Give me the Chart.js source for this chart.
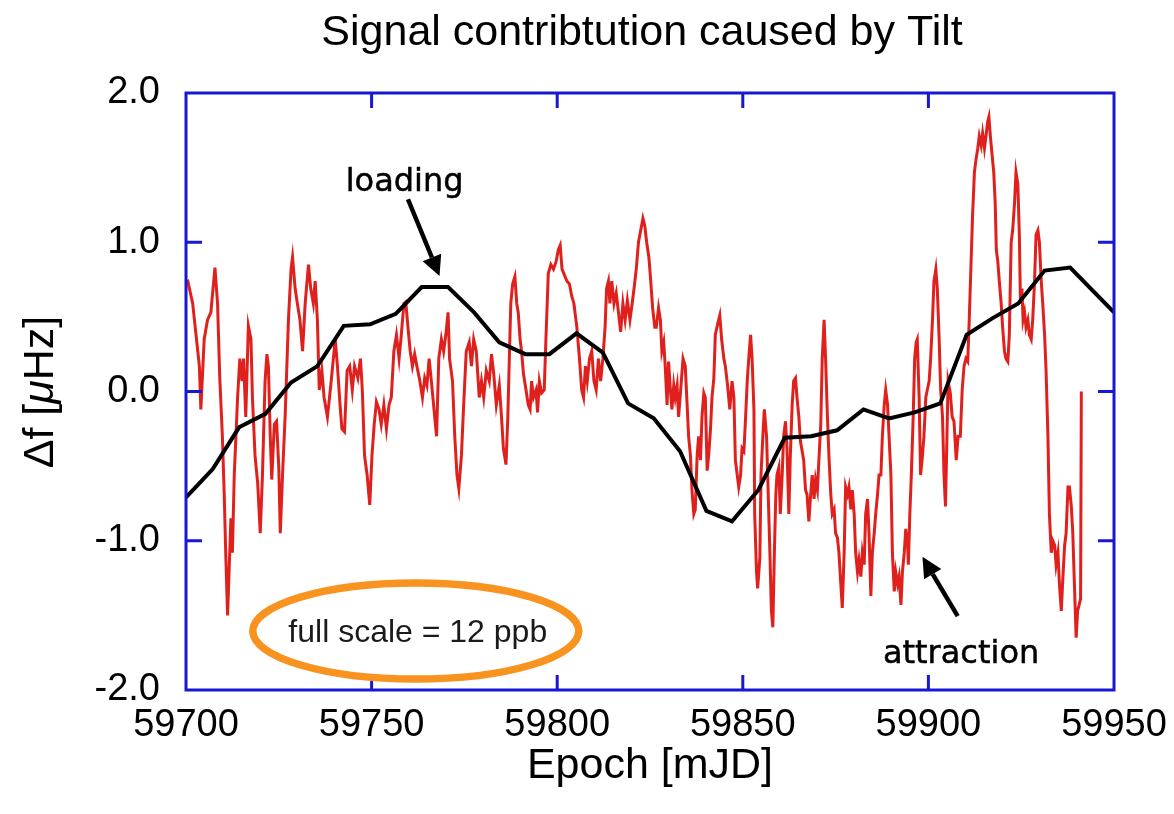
<!DOCTYPE html>
<html>
<head>
<meta charset="utf-8">
<title>Signal contribtution caused by Tilt</title>
<script src="https://cdn.jsdelivr.net/npm/chart.js@4.4.1/dist/chart.umd.min.js"></script>
<style>
  html, body { margin: 0; padding: 0; background: #fff; }
</style>
</head>
<body>
<canvas id="tiltChart" width="1174" height="814"></canvas>
<script>
// tilt signal (red), epochs in mJD
const redEpoch = [
  59700.4, 59701.8, 59702.7, 59703.6, 59704.0, 59704.9, 59705.8, 59706.7, 59707.8, 59708.5,
  59709.1, 59709.8, 59710.3, 59710.7, 59711.2, 59711.6, 59712.1, 59712.5, 59713.0, 59713.9,
  59714.5, 59715.1, 59715.5, 59716.1, 59716.8, 59717.5, 59717.9, 59718.6, 59719.3, 59720.0,
  59720.6, 59721.3, 59721.8, 59722.2, 59722.7, 59723.1, 59723.8, 59724.4, 59725.0, 59725.4,
  59726.0, 59726.7, 59727.6, 59728.3, 59728.7, 59729.4, 59730.0, 59730.7, 59731.4, 59732.1,
  59733.0, 59733.6, 59734.3, 59734.8, 59735.4, 59735.9, 59736.6, 59737.2, 59738.1, 59739.0,
  59739.7, 59740.2, 59740.8, 59741.5, 59742.0,
  59742.7, 59743.4, 59744.1, 59744.8, 59745.4, 59746.3, 59747.0, 59747.5, 59748.1, 59748.8,
  59749.5, 59750.1, 59750.7, 59751.3, 59752.0, 59752.6, 59753.3, 59754.0, 59754.7, 59755.3,
  59756.0, 59756.7, 59757.4, 59758.0, 59758.7, 59759.2, 59759.8, 59760.4, 59761.0, 59761.6,
  59762.2, 59763.0, 59763.7, 59764.3, 59764.9, 59765.5, 59766.1, 59766.7, 59767.5, 59768.1,
  59768.8, 59769.4, 59770.0, 59770.6, 59771.0, 59771.8, 59772.4, 59773.0, 59773.5, 59774.2,
  59774.8, 59775.5, 59776.3, 59776.9, 59777.5, 59778.2, 59779.0, 59779.6, 59780.2, 59780.9,
  59781.7, 59782.3, 59782.9, 59783.6,
  59784.4, 59785.0, 59785.5, 59786.2, 59786.7, 59787.1, 59787.5, 59788.0, 59788.6, 59789.1,
  59789.5, 59790.0, 59790.4, 59790.9, 59791.6, 59792.2, 59792.7, 59793.1, 59793.6, 59794.3,
  59794.7, 59795.2, 59795.8, 59796.5, 59797.0, 59797.6, 59798.3, 59799.0, 59799.7, 59800.3,
  59800.8, 59801.3, 59801.8, 59802.6, 59803.3, 59803.9, 59804.5, 59805.3, 59806.0, 59806.6,
  59807.1, 59807.6, 59808.1, 59808.7, 59809.3, 59809.9, 59810.5, 59811.1, 59811.7, 59812.3,
  59812.9, 59813.3, 59813.8, 59814.2, 59814.7, 59815.3, 59815.9, 59816.5, 59817.1, 59817.7,
  59818.3, 59818.9, 59819.6, 59820.2, 59820.7, 59821.3, 59821.9, 59822.5, 59823.1, 59823.6,
  59824.1, 59824.7, 59825.2, 59825.7, 59826.3,
  59826.7, 59827.3, 59827.8, 59828.2, 59828.7, 59829.1, 59829.6, 59830.0, 59830.5, 59830.9,
  59831.4, 59831.8, 59832.3, 59832.7, 59833.2, 59833.9, 59834.5, 59835.0, 59835.4, 59835.9,
  59836.3, 59836.8, 59837.2, 59837.7, 59838.1, 59838.6, 59839.0, 59839.5, 59839.9, 59840.4,
  59840.8, 59841.3, 59841.7, 59842.2, 59842.6, 59843.3, 59843.8, 59844.3, 59844.9, 59845.3,
  59845.9, 59846.5, 59847.1, 59847.6, 59848.0, 59848.5, 59848.9, 59849.4, 59849.8, 59850.3,
  59850.7, 59851.2, 59851.6, 59852.1, 59852.5, 59853.0, 59853.2, 59853.7, 59854.0, 59854.6,
  59854.9, 59855.5, 59855.8, 59856.4, 59856.7, 59857.3, 59857.7, 59858.1, 59858.5, 59858.9,
  59859.2, 59859.7, 59860.1, 59860.6, 59861.0, 59861.5, 59861.9, 59862.4, 59862.8, 59863.3,
  59863.7, 59864.2, 59864.6, 59865.1, 59865.5, 59866.0, 59866.4, 59866.9, 59867.3, 59867.8,
  59868.2,
  59868.7, 59869.2, 59869.6, 59870.1, 59870.5, 59871.0, 59871.4, 59871.9, 59872.3, 59872.8,
  59873.2, 59873.7, 59874.1, 59874.6, 59875.0, 59875.5, 59875.9, 59876.4, 59876.8, 59877.3,
  59877.7, 59878.2, 59878.6, 59879.1, 59879.5, 59880.0, 59880.4, 59880.9, 59881.3, 59881.8,
  59882.2, 59882.7, 59883.1, 59883.6, 59884.0, 59884.5, 59884.9, 59885.4, 59885.8, 59886.3,
  59886.7, 59887.2, 59887.6, 59888.1, 59888.5, 59889.0, 59889.4, 59889.9, 59890.3, 59890.8,
  59891.2, 59891.7, 59892.1, 59892.6, 59893.0, 59893.5, 59893.9, 59894.4, 59894.6, 59895.0,
  59895.4, 59895.9, 59896.3, 59896.7, 59897.0, 59897.5, 59897.9, 59898.4, 59898.8, 59899.3,
  59899.7, 59900.2, 59900.6, 59901.1, 59901.5, 59902.0, 59902.4, 59902.9, 59903.3, 59903.8,
  59904.2, 59904.6, 59905.0, 59905.3, 59905.9, 59906.4, 59906.9, 59907.5, 59908.0, 59908.6,
  59909.1, 59909.6, 59910.1,
  59910.6, 59911.0, 59911.5, 59911.9, 59912.4, 59912.8, 59913.3, 59913.7, 59914.2, 59914.6,
  59915.1, 59915.5, 59916.0, 59916.3, 59916.7, 59917.1, 59917.6, 59918.0, 59918.3, 59918.7,
  59919.1, 59919.6, 59920.0, 59920.5, 59920.9, 59921.4, 59921.8, 59922.3, 59922.7, 59923.2,
  59923.6, 59924.1, 59924.5, 59924.8, 59925.2, 59925.5, 59925.9, 59926.3, 59926.8, 59927.2,
  59927.7, 59928.1, 59928.6, 59929.0, 59929.5, 59929.9, 59930.4, 59930.8, 59931.3, 59931.7,
  59932.2, 59932.6, 59933.1, 59933.5, 59934.0, 59934.4, 59934.9, 59935.3, 59935.8, 59936.2,
  59936.7, 59937.1, 59937.6, 59938.0, 59938.5, 59938.9, 59939.4, 59939.8, 59940.2, 59940.7,
  59941.0, 59941.2
];
const redDf = [
  0.75, 0.59, 0.38, 0.17, -0.12, 0.35, 0.48, 0.53, 0.83, 0.59,
  0.09, -0.30, -0.69, -1.08, -1.50, -1.21, -0.85, -1.08, -0.56, -0.04,
  0.22, 0.07, 0.22, -0.17, 0.44, 0.35, -0.04, -0.43, -0.61, -0.95,
  -0.56, 0.07, 0.25, 0.17, -0.30, -0.59, -0.22, -0.20, -0.51, -0.95,
  -0.56, -0.17, 0.48, 0.82, 0.90, 0.69, 0.59, 0.48, 0.27, 0.59,
  0.85, 0.69, 0.59, 0.74, 0.48, 0.01, 0.14, -0.04, -0.17, 0.04,
  0.22, 0.35, 0.17, -0.09, -0.25,
  -0.27, 0.14, 0.17, 0.01, 0.17, 0.09, 0.22, 0.01, -0.43, -0.56,
  -0.76, -0.43, -0.22, -0.07, -0.12, -0.22, -0.09, -0.25, -0.09, -0.04,
  0.27, 0.38, 0.22, 0.38, 0.59, 0.60, 0.43, 0.27, 0.17, 0.25,
  0.17, 0.07, -0.04, 0.09, 0.04, 0.22, 0.07, -0.09, -0.30, 0.22,
  0.35, 0.27, 0.38, 0.53, 0.22, 0.07, -0.30, -0.56, -0.65, -0.43,
  -0.09, 0.27, 0.33, 0.17, 0.35, 0.27, -0.04, 0.07, -0.04, 0.14,
  0.07, 0.25, 0.12, -0.09,
  0.04, -0.17, -0.38, -0.49, -0.17, 0.22, 0.59, 0.72, 0.77, 0.59,
  0.53, 0.35, 0.27, 0.12, 0.01, -0.09, -0.12, 0.07, -0.04, 0.01,
  -0.14, 0.07, -0.01, 0.01, 0.38, 0.79, 0.85, 0.82, 0.87, 0.95,
  0.98, 0.82, 0.79, 0.74, 0.72, 0.64, 0.59, 0.43, 0.22, 0.01,
  -0.04, 0.17, 0.07, 0.22, 0.27, 0.07, 0.01, 0.22, 0.07, 0.22,
  0.43, 0.69, 0.74, 0.59, 0.74, 0.59, 0.66, 0.53, 0.40, 0.59,
  0.48, 0.61, 0.48, 0.59, 0.69, 0.82, 1.00, 1.08, 1.16, 1.11,
  1.00, 0.90, 0.74, 0.56, 0.43,
  0.43, 0.56, 0.48, 0.27, 0.33, 0.17, -0.09, 0.20, 0.01, -0.12,
  0.04, -0.04, 0.04, -0.17, -0.01, 0.22, 0.17, -0.09, -0.30, -0.43,
  -0.66, -0.82, -0.79, -0.43, -0.30, -0.46, -0.17, -0.01, -0.04, -0.53,
  -0.43, -0.25, -0.04, 0.09, 0.38, 0.46, 0.51, 0.35, 0.22, 0.17,
  0.04, -0.12, 0.07, -0.04, -0.46, -0.56, -0.64, -0.56, -0.38, -0.40,
  -0.20, 0.07, 0.22, 0.38, 0.22, -0.12, -0.82, -1.21, -1.32, -1.11,
  -0.56, -0.25, -0.12, -0.30, -0.56, -1.08, -1.47, -1.58, -1.08, -0.69,
  -0.56, -0.51, -0.82, -0.56, -0.30, -0.20, -0.38, -0.82, -0.43, -0.09,
  0.07, 0.09, -0.04, -0.17, -0.33, -0.40, -0.46, -0.66, -0.69, -0.87,
  -0.72,
  -0.56, -0.72, -0.59, -0.66, -0.46, -0.22, 0.22, 0.48, 0.22, -0.17,
  -0.43, -0.69, -0.82, -0.79, -0.95, -0.98, -1.08, -1.29, -1.45, -1.08,
  -0.64, -0.69, -0.64, -0.79, -0.66, -0.82, -1.08, -1.21, -1.13, -1.24,
  -1.08, -1.16, -0.82, -0.72, -0.95, -1.37, -1.08, -0.95, -0.82, -0.69,
  -0.56, -0.56, -0.30, -0.09, 0.01, -0.09, -0.30, -0.56, -1.08, -1.34,
  -1.21, -1.29, -1.24, -1.43, -1.21, -1.08, -0.92, -1.03, -1.16, -0.82,
  -0.56, -0.17, 0.22, 0.33, 0.35, -0.04, -0.56, -0.43, -0.30, -0.04,
  0.01, 0.07, 0.22, 0.48, 0.74, 0.82, 0.69, 0.35, 0.01, -0.17,
  -0.56, -0.77, -0.30, 0.07, -0.01, -0.17, -0.20, -0.46, -0.30, -0.30,
  0.01, 0.17, 0.22,
  0.20, 0.48, 0.87, 1.18, 1.47, 1.55, 1.63, 1.71, 1.65, 1.73,
  1.63, 1.71, 1.81, 1.84, 1.71, 1.60, 1.47, 1.26, 0.95, 0.87,
  0.74, 0.59, 0.43, 0.27, 0.22, 0.20, 0.38, 1.00, 1.08, 1.26,
  1.47, 1.39, 1.05, 0.59, 0.69, 0.48, 0.53, 0.43, 0.48, 0.38,
  0.35, 0.48, 0.74, 1.05, 1.08, 1.00, 0.74, 0.59, 0.38, 0.14,
  -0.30, -0.82, -1.08, -1.00, -1.03, -1.16, -1.08, -1.29, -1.47, -1.26,
  -1.03, -0.95, -0.64, -0.64, -0.77, -0.95, -1.34, -1.65, -1.47, -1.42,
  -1.39, 0.00
];

// weekly loading model (black)
const blackEpoch = [
  59700.0, 59707.2, 59714.3, 59721.4, 59728.3, 59735.4, 59742.5, 59749.6, 59756.5, 59763.5,
  59770.6, 59777.6, 59784.4, 59791.4, 59797.9, 59805.2, 59812.3, 59819.1, 59826.0, 59833.1,
  59840.2, 59847.1, 59854.2, 59861.3, 59868.4, 59875.4, 59882.5, 59889.4, 59896.3, 59903.2,
  59910.3, 59917.2, 59924.2, 59931.3, 59938.2, 59950.0
];
const blackDf = [
  -0.71, -0.52, -0.24, -0.15, 0.06, 0.17, 0.44, 0.45, 0.52, 0.70,
  0.70, 0.53, 0.33, 0.25, 0.25, 0.39, 0.26, -0.08, -0.18, -0.40,
  -0.80, -0.87, -0.66, -0.31, -0.30, -0.26, -0.12, -0.18, -0.14, -0.08,
  0.38, 0.49, 0.59, 0.81, 0.83, 0.53
];

const xTicks = [59700, 59750, 59800, 59850, 59900, 59950];
const yTicks = [-2, -1, 0, 1, 2];

const FONT = "'Liberation Sans', Arial, Helvetica, sans-serif";
const HAND = "'DejaVu Sans', sans-serif";

function arrow(ctx, x1, y1, x2, y2) {
  const ang = Math.atan2(y2 - y1, x2 - x1);
  const len = 20, half = 10;
  const bx = x2 - len * Math.cos(ang), by = y2 - len * Math.sin(ang);
  ctx.beginPath();
  ctx.moveTo(x1, y1);
  ctx.lineTo(bx, by);
  ctx.stroke();
  ctx.beginPath();
  ctx.moveTo(x2, y2);
  ctx.lineTo(bx + half * Math.sin(ang), by - half * Math.cos(ang));
  ctx.lineTo(bx - half * Math.sin(ang), by + half * Math.cos(ang));
  ctx.closePath();
  ctx.fill();
}

function note(ctx, text, px, py) {
  ctx.fillText(text, px, py);
  ctx.lineWidth = 0.5;
  ctx.strokeText(text, px, py);
}

// blue frame with inward ticks, title, y title and the hand-drawn notes
const decorations = {
  id: 'decorations',
  afterDatasetsDraw(chart) {
    const { ctx, chartArea: a, scales: { x, y } } = chart;
    ctx.save();

    ctx.strokeStyle = '#1818d4';
    ctx.lineWidth = 3;
    ctx.strokeRect(a.left, a.top, a.right - a.left, a.bottom - a.top);
    ctx.beginPath();
    xTicks.slice(1, -1).forEach(v => {
      const px = x.getPixelForValue(v);
      ctx.moveTo(px, a.top); ctx.lineTo(px, a.top + 15);
      ctx.moveTo(px, a.bottom); ctx.lineTo(px, a.bottom - 15);
    });
    yTicks.slice(1, -1).forEach(v => {
      const py = y.getPixelForValue(v);
      ctx.moveTo(a.left, py); ctx.lineTo(a.left + 16, py);
      ctx.moveTo(a.right, py); ctx.lineTo(a.right - 16, py);
    });
    ctx.stroke();

    // title
    ctx.fillStyle = '#000';
    ctx.font = '43px ' + FONT;
    ctx.textAlign = 'center';
    ctx.textBaseline = 'alphabetic';
    ctx.fillText('Signal contribtution caused by Tilt', 642, 45);

    // y axis title with italic mu
    const parts = [['Δf [', 'normal'], ['μ', 'italic'], ['Hz]', 'normal']];
    let total = 0;
    parts.forEach(p => { ctx.font = p[1] + ' 43px ' + FONT; total += ctx.measureText(p[0]).width; });
    ctx.translate(53, 392);
    ctx.rotate(-Math.PI / 2);
    ctx.textAlign = 'left';
    let cx = -total / 2;
    parts.forEach(p => {
      ctx.font = p[1] + ' 43px ' + FONT;
      ctx.fillText(p[0], cx, 0);
      cx += ctx.measureText(p[0]).width;
    });
    ctx.setTransform(1, 0, 0, 1, 0, 0);

    // "full scale" ellipse
    const ex = x.getPixelForValue(59761.9), ey = y.getPixelForValue(-1.605);
    ctx.strokeStyle = '#f7931e';
    ctx.lineWidth = 7.5;
    ctx.beginPath();
    ctx.ellipse(ex, ey, 163, 48, 0, 0, Math.PI * 2);
    ctx.stroke();
    ctx.fillStyle = '#1a1a1a';
    ctx.font = '32px ' + FONT;
    ctx.textAlign = 'center';
    ctx.textBaseline = 'middle';
    ctx.fillText('full scale = 12 ppb', ex + 2, ey + 2);

    // loading / attraction notes
    ctx.fillStyle = '#000';
    ctx.strokeStyle = '#000';
    ctx.font = '32px ' + HAND;
    note(ctx, 'loading', x.getPixelForValue(59758.9), y.getPixelForValue(1.40));
    note(ctx, 'attraction', x.getPixelForValue(59908.8), y.getPixelForValue(-1.765));
    ctx.lineWidth = 4.5;
    arrow(ctx, x.getPixelForValue(59759.8), y.getPixelForValue(1.288),
               x.getPixelForValue(59768.3), y.getPixelForValue(0.774));
    arrow(ctx, x.getPixelForValue(59907.9), y.getPixelForValue(-1.505),
               x.getPixelForValue(59898.4), y.getPixelForValue(-1.108));
    ctx.restore();
  }
};

new Chart(document.getElementById('tiltChart'), {
  type: 'scatter',
  data: {
    datasets: [
      {
        label: 'loading model',
        data: blackEpoch.map((e, i) => ({ x: e, y: blackDf[i] })),
        showLine: true,
        borderColor: '#000',
        borderWidth: 4,
        pointRadius: 0,
        tension: 0
      },
      {
        label: 'tilt signal',
        data: redEpoch.map((e, i) => ({ x: e, y: redDf[i] })),
        showLine: true,
        borderColor: '#e0201c',
        borderWidth: 3,
        pointRadius: 0,
        tension: 0
      }
    ]
  },
  options: {
    responsive: false,
    animation: false,
    events: [],
    layout: { padding: { top: 93, right: 60, left: 0, bottom: 0 } },
    plugins: {
      legend: { display: false },
      title: { display: false },
      tooltip: { enabled: false }
    },
    scales: {
      x: {
        type: 'linear',
        min: 59700,
        max: 59950,
        afterFit: s => { s.height = 124; s.paddingLeft = 0; s.paddingRight = 0; },
        afterBuildTicks: s => { s.ticks = xTicks.map(v => ({ value: v })); },
        grid: { display: false, drawTicks: false, tickLength: 0 },
        border: { display: false },
        ticks: {
          color: '#000',
          font: { family: FONT, size: 38 },
          padding: 13,
          maxRotation: 0,
          callback: v => String(v)
        },
        title: {
          display: true,
          text: 'Epoch [mJD]',
          color: '#000',
          font: { family: FONT, size: 43 },
          padding: { top: 0, bottom: 22 }
        }
      },
      y: {
        min: -2,
        max: 2,
        afterFit: s => { s.width = 186; s.paddingTop = 0; s.paddingBottom = 0; },
        afterBuildTicks: s => { s.ticks = yTicks.map(v => ({ value: v })); },
        grid: { display: false, drawTicks: false, tickLength: 0 },
        border: { display: false },
        ticks: {
          color: '#000',
          font: { family: FONT, size: 38 },
          padding: 26,
          callback: v => v.toFixed(1)
        }
      }
    }
  },
  plugins: [decorations]
});
</script>
</body>
</html>
